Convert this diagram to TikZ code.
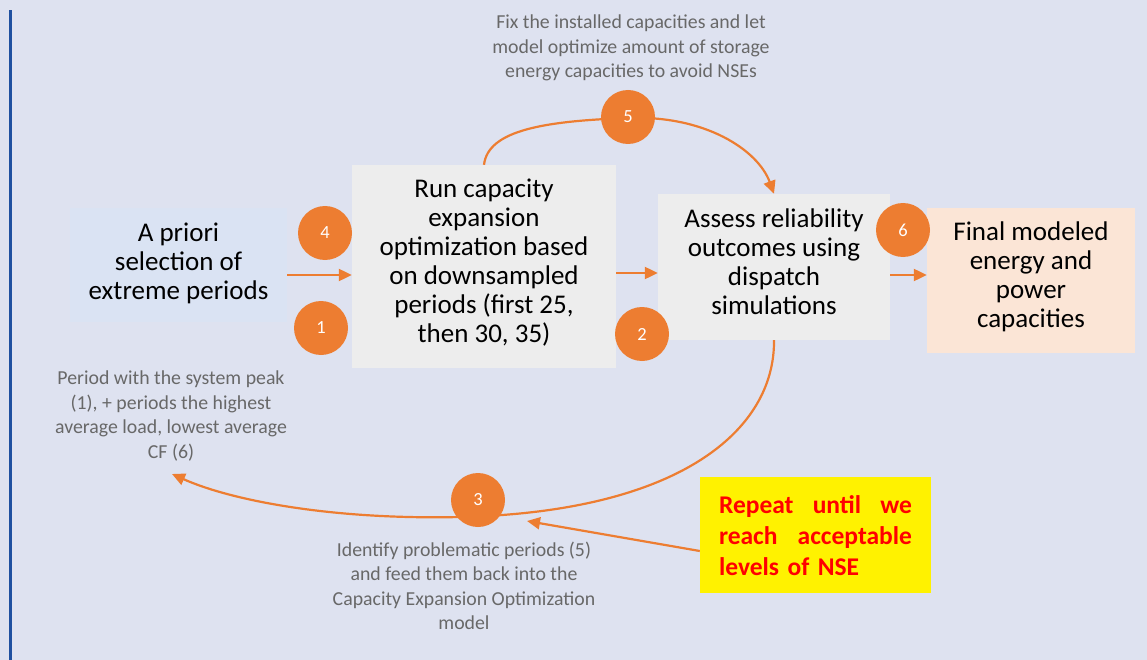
\documentclass[tikz,border=0pt]{standalone}
\usepackage{fontspec}
\setmainfont{Carlito}
\usetikzlibrary{arrows.meta}
\definecolor{bgc}{HTML}{DEE2F0}
\definecolor{boxblue}{HTML}{DAE3F3}
\definecolor{boxgray}{HTML}{EDEDED}
\definecolor{boxpeach}{HTML}{FBE5D6}
\definecolor{orng}{HTML}{ED7D31}
\definecolor{barblue}{HTML}{1F50A0}
\definecolor{graytext}{HTML}{686868}
\tikzset{
  boxshape/.style={inner sep=0pt},
  mainbox/.style={inner sep=0pt, align=center, text=black,
    font=\fontsize{27bp}{29bp}\selectfont},
  numc/.style={circle, fill=orng, minimum size=54bp, inner sep=0pt,
    text=white, font=\fontsize{18.5bp}{20bp}\selectfont},
  note/.style={align=center, text=graytext, inner sep=0pt,
    font=\fontsize{19.8bp}{24.5bp}\selectfont},
  conn/.style={draw=orng, line width=2.2bp,
    -{Triangle[length=13bp,width=12bp]}},
  plainconn/.style={draw=orng, line width=2.2bp},
}
\begin{document}
\begin{tikzpicture}[x=1bp, y=-1bp]
\fill[bgc] (0,0) rectangle (1147,660);
\useasboundingbox (0,0) rectangle (1147,660);
\fill[barblue] (9,10) rectangle (11.8,660);
% boxes
\node[boxshape, fill=boxblue, minimum width=217bp, minimum height=114bp] (A) at (178.5,265) {};
\node[boxshape, fill=boxgray, minimum width=264bp, minimum height=203bp] (B) at (484,266.5) {};
\node[boxshape, fill=boxgray, minimum width=232bp, minimum height=146bp] (C) at (774,267) {};
\node[boxshape, fill=boxpeach, minimum width=208bp, minimum height=145bp] (D) at (1031,280.5) {};
\node[boxshape, fill=yellow, minimum width=231bp, minimum height=116bp] (Y) at (815.5,535) {};
% box texts
\node[mainbox] (At) at ([yshift=2bp]A.center) {A priori\\selection of\\extreme periods};
\node[mainbox] (Bt) at ([yshift=4bp]B.center) {Run capacity\\expansion\\optimization based\\on downsampled\\periods (first 25,\\then 30, 35)};
\node[mainbox] (Ct) at ([yshift=5bp]C.center) {Assess reliability\\outcomes using\\dispatch\\simulations};
\node[mainbox] (Dt) at ([yshift=4bp]D.center) {Final modeled\\energy and\\power\\capacities};
\node[align=left, text width=193bp, inner sep=0pt, text=red,
  font=\bfseries\fontsize{25.5bp}{31bp}\selectfont] (Yt) at ([yshift=-1bp]Y.center)
  {\leavevmode\hbox to 193bp{Repeat\hfill until\hfill we}\\\leavevmode\hbox to 193bp{reach\hfill acceptable}\\levels of NSE};
% notes
\node[note] (n5) at (631,48) {Fix the installed capacities and let\\model optimize amount of storage\\energy capacities to avoid NSEs};
\node[note] (n1) at (171,416) {Period with the system peak\\(1), + periods the highest\\average load, lowest average\\CF (6)};
\node[note] (n3) at (464,586) {Identify problematic periods (5)\\and feed them back into the\\Capacity Expansion Optimization\\model};
% coordinates
\coordinate (p5) at (628,118);
\coordinate (p3) at (460,517);
\coordinate (t1) at (172,474);
\coordinate (t3) at (527,521);
% connectors
\draw[conn] ([yshift=-10bp]A.east) -- ([yshift=-10bp]A.east -| B.west);
\draw[conn] ([yshift=-6bp]C.west -| B.east) -- ([yshift=-6bp]C.west);
\draw[conn] ([yshift=-8bp]C.east) -- ([yshift=-8bp]C.east -| D.west);
\draw[plainconn] (B.north) .. controls (488,130) and (545,121) .. (p5);
\draw[conn] (p5) .. controls (705,115) and (758,150) .. (C.north);
\draw[plainconn] (C.south) .. controls (775,430) and (680,512) .. (p3);
\draw[conn] (p3) .. controls (330,520) and (230,500) .. (t1);
\draw[conn] ([yshift=-16bp]Y.west) -- (t3);
% numbered circles
\node[numc] (c4) at (325,233) {4};
\node[numc] (c1) at (321,328) {1};
\node[numc] (c5) at (628,117) {5};
\node[numc] (c2) at (642,334) {2};
\node[numc] (c6) at (903,230) {6};
\node[numc] (c3) at (478,500) {3};
\end{tikzpicture}
\end{document}
